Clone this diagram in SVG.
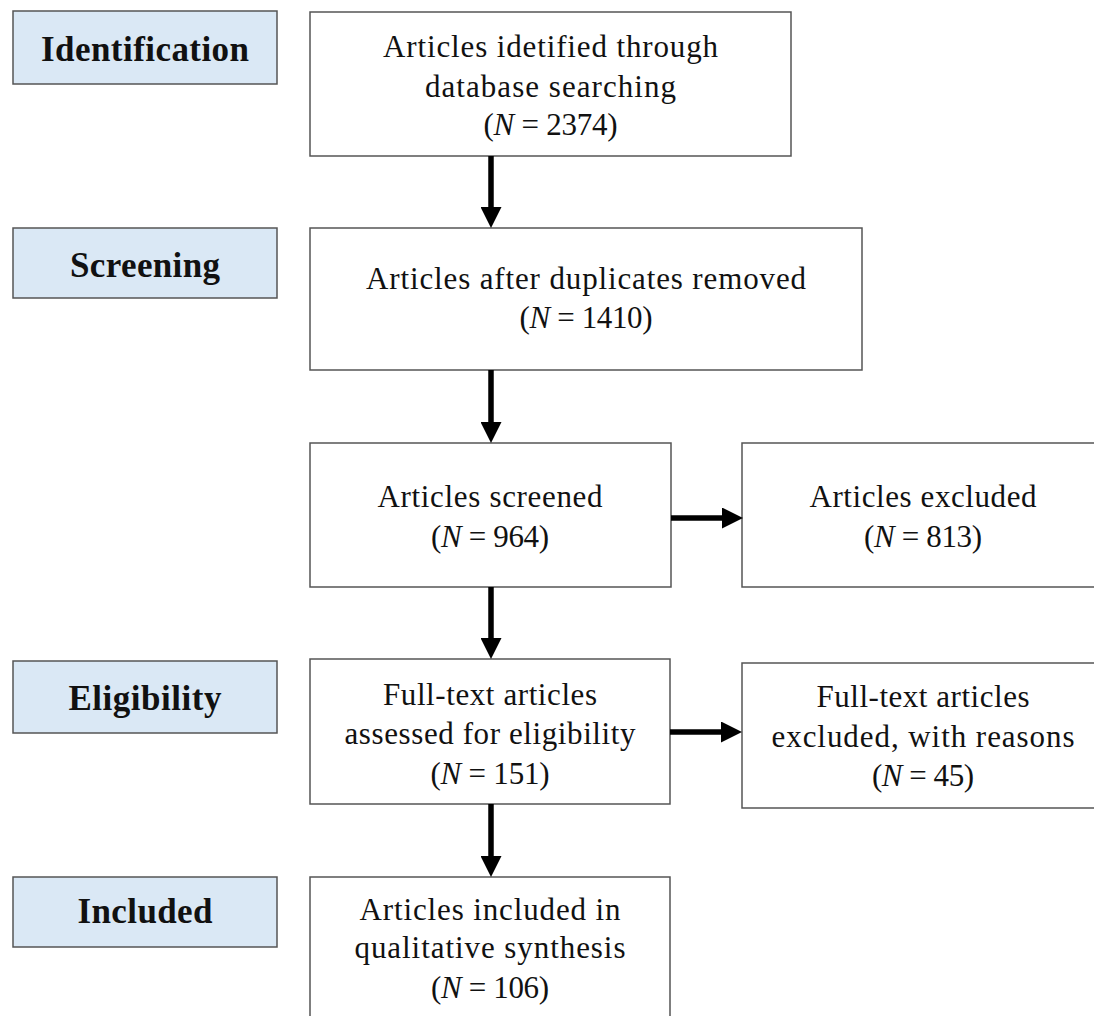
<svg xmlns="http://www.w3.org/2000/svg" width="1094" height="1016" viewBox="0 0 1094 1016">
<defs>
<style>
.lab rect{fill:#DAE8F5;stroke:#555;stroke-width:1.5}
.box rect{fill:#fff;stroke:#555;stroke-width:1.5}
.lab text{font-family:"Liberation Serif",serif;font-weight:bold;font-size:35px;fill:#111;text-anchor:middle}
.box text{font-family:"Liberation Serif",serif;font-size:31px;fill:#111;text-anchor:middle}
.i{font-style:italic}
.con line{stroke:#000;stroke-width:5.5}
</style>
<marker id="ah" markerUnits="userSpaceOnUse" markerWidth="21" markerHeight="21" refX="3" refY="10.5" orient="auto">
<path d="M0,0 L21,10.5 L0,21 z" fill="#000"/>
</marker>
</defs>
<rect width="1094" height="1016" fill="#fff"/>

<g id="lab-identification" class="lab">
<rect x="13" y="11" width="264" height="73"/>
<text x="145" y="61" textLength="208" lengthAdjust="spacing">Identification</text>
</g>
<g id="lab-screening" class="lab">
<rect x="13" y="228" width="264" height="70"/>
<text x="145" y="277" textLength="150" lengthAdjust="spacing">Screening</text>
</g>
<g id="lab-eligibility" class="lab">
<rect x="13" y="661" width="264" height="72"/>
<text x="145" y="710" textLength="153" lengthAdjust="spacing">Eligibility</text>
</g>
<g id="lab-included" class="lab">
<rect x="13" y="877" width="264" height="70"/>
<text x="145" y="923" textLength="135" lengthAdjust="spacing">Included</text>
</g>

<g id="n-identified" class="box">
<rect x="310" y="12" width="481" height="144"/>
<text x="550.5" y="57" textLength="335" lengthAdjust="spacing">Articles idetified through</text>
<text x="550.5" y="97" textLength="251" lengthAdjust="spacing">database searching</text>
<text x="550.5" y="135" textLength="134" lengthAdjust="spacing">(<tspan class="i">N</tspan> = 2374)</text>
</g>
<g id="n-dedup" class="box">
<rect x="310" y="228" width="552" height="142"/>
<text x="586" y="289" textLength="440" lengthAdjust="spacing">Articles after duplicates removed</text>
<text x="586" y="328" textLength="133" lengthAdjust="spacing">(<tspan class="i">N</tspan> = 1410)</text>
</g>
<g id="n-screened" class="box">
<rect x="310" y="443" width="361" height="144"/>
<text x="490" y="507" textLength="225" lengthAdjust="spacing">Articles screened</text>
<text x="490" y="547" textLength="118" lengthAdjust="spacing">(<tspan class="i">N</tspan> = 964)</text>
</g>
<g id="n-excluded" class="box">
<rect x="742" y="443" width="362" height="144"/>
<text x="923" y="507" textLength="227" lengthAdjust="spacing">Articles excluded</text>
<text x="923" y="547" textLength="118" lengthAdjust="spacing">(<tspan class="i">N</tspan> = 813)</text>
</g>
<g id="n-fulltext" class="box">
<rect x="310" y="659" width="360" height="145"/>
<text x="490" y="705" textLength="214" lengthAdjust="spacing">Full-text articles</text>
<text x="490" y="744" textLength="291" lengthAdjust="spacing">assessed for eligibility</text>
<text x="490" y="784" textLength="119" lengthAdjust="spacing">(<tspan class="i">N</tspan> = 151)</text>
</g>
<g id="n-ftexcluded" class="box">
<rect x="742" y="663" width="362" height="145"/>
<text x="923" y="707" textLength="213" lengthAdjust="spacing">Full-text articles</text>
<text x="923" y="747" textLength="303" lengthAdjust="spacing">excluded, with reasons</text>
<text x="923" y="786" textLength="102" lengthAdjust="spacing">(<tspan class="i">N</tspan> = 45)</text>
</g>
<g id="n-included" class="box">
<rect x="310" y="877" width="360" height="160"/>
<text x="490" y="920" textLength="261" lengthAdjust="spacing">Articles included in</text>
<text x="490" y="958" textLength="271" lengthAdjust="spacing">qualitative synthesis</text>
<text x="490" y="998" textLength="118" lengthAdjust="spacing">(<tspan class="i">N</tspan> = 106)</text>
</g>

<g id="connectors" class="con">
<line x1="491" y1="156" x2="491" y2="210" marker-end="url(#ah)"/>
<line x1="491" y1="370" x2="491" y2="425" marker-end="url(#ah)"/>
<line x1="491" y1="587" x2="491" y2="641" marker-end="url(#ah)"/>
<line x1="491" y1="804" x2="491" y2="859" marker-end="url(#ah)"/>
<line x1="671" y1="518" x2="725" y2="518" marker-end="url(#ah)"/>
<line x1="670" y1="732" x2="724" y2="732" marker-end="url(#ah)"/>
</g>
</svg>
